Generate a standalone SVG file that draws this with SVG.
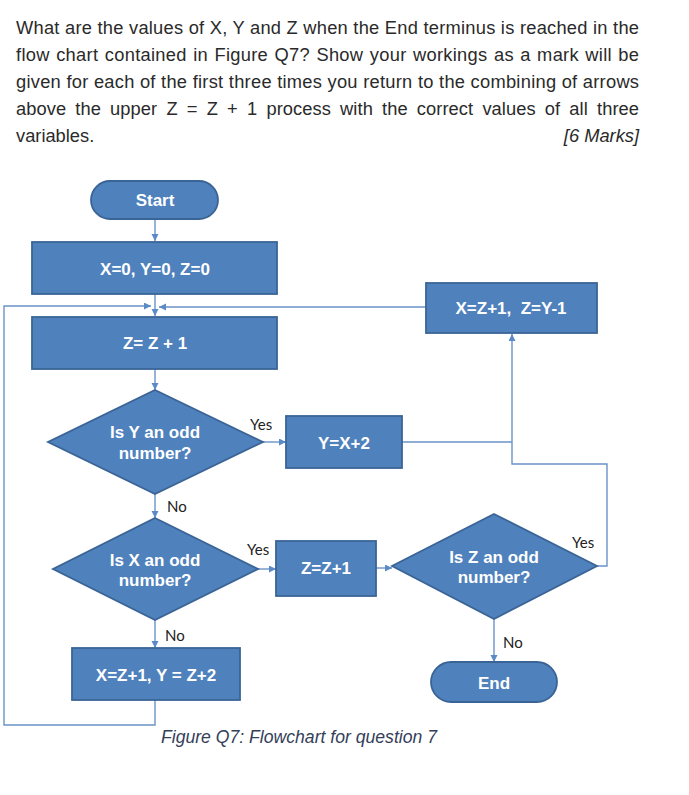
<svg xmlns="http://www.w3.org/2000/svg" width="689" height="795" viewBox="0 0 689 795">
<defs>
<style>
.q{font-family:"Liberation Sans",Arial,sans-serif;font-size:18.3px;fill:#2a2a2a}
.shape{fill:#4f81bd;stroke:#3a6496;stroke-width:1.8}
.nt{font-family:"Liberation Sans",Arial,sans-serif;font-size:17px;font-weight:bold;fill:#ffffff;text-anchor:middle;white-space:pre}
.lbl{font-family:Lato,"Liberation Sans",sans-serif;font-size:15px;fill:#222}
.cn{fill:none;stroke:#6a93c8;stroke-width:1.4}
.cap{font-family:"Liberation Sans",Arial,sans-serif;font-size:17.5px;font-style:italic;fill:#34405a}
</style>
<marker id="ah" markerUnits="userSpaceOnUse" markerWidth="8" markerHeight="8" refX="7" refY="3.5" orient="auto">
<path d="M0,0 L7,3.5 L0,7 z" fill="#5b8ac6"/>
</marker>
</defs>
<rect width="689" height="795" fill="#ffffff"/>
<g id="question">
<text class="q" x="16" y="34" textLength="623" lengthAdjust="spacing">What are the values of X, Y and Z when the End terminus is reached in the</text>
<text class="q" x="16" y="61" textLength="623" lengthAdjust="spacing" word-spacing="1">flow chart contained in Figure Q7? Show your workings as a mark will be</text>
<text class="q" x="16" y="88" textLength="623" lengthAdjust="spacing">given for each of the first three times you return to the combining of arrows</text>
<text class="q" x="16" y="115" textLength="623" lengthAdjust="spacing" word-spacing="4">above the upper Z = Z + 1 process with the correct values of all three</text>
<text class="q" x="16" y="142">variables.</text>
<text class="q" x="639" y="142" text-anchor="end" font-style="italic">[6 Marks]</text>
</g>
<g id="connectors">
<path class="cn" d="M155,219 V241" marker-end="url(#ah)"/>
<path class="cn" d="M155,294 V316" marker-end="url(#ah)"/>
<path class="cn" d="M155,700 V725 H4 V306 H151" marker-end="url(#ah)"/>
<path class="cn" d="M426,307 H159" marker-end="url(#ah)"/>
<path class="cn" d="M155,369 V390" marker-end="url(#ah)"/>
<path class="cn" d="M263,442 H286" marker-end="url(#ah)"/>
<path class="cn" d="M155,494 V518" marker-end="url(#ah)"/>
<path class="cn" d="M258,569 H276" marker-end="url(#ah)"/>
<path class="cn" d="M155,620 V648" marker-end="url(#ah)"/>
<path class="cn" d="M376,568 H392" marker-end="url(#ah)"/>
<path class="cn" d="M597,566 H607 V464 H512 V334" marker-end="url(#ah)"/>
<path class="cn" d="M402,442 H512"/>
<path class="cn" d="M494,619 V662" marker-end="url(#ah)"/>
</g>
<g id="start">
<rect class="shape" x="91" y="181" width="127" height="38" rx="19"/>
<text class="nt" x="155" y="206">Start</text>
</g>
<g id="init">
<rect class="shape" x="32" y="242" width="245" height="52"/>
<text class="nt" x="155" y="275">X=0, Y=0, Z=0</text>
</g>
<g id="incZ">
<rect class="shape" x="32" y="317" width="245" height="52"/>
<text class="nt" x="155" y="349">Z= Z + 1</text>
</g>
<g id="isYodd">
<polygon class="shape" points="155,390 263,442 155,494 48,442"/>
<text class="nt" x="155" y="438">Is Y an odd</text>
<text class="nt" x="155" y="459">number?</text>
</g>
<g id="setY">
<rect class="shape" x="286" y="416" width="116" height="52"/>
<text class="nt" x="344" y="449">Y=X+2</text>
</g>
<g id="setXZ">
<rect class="shape" x="426" y="283" width="171" height="50"/>
<text class="nt" x="511" y="314">X=Z+1,  Z=Y-1</text>
</g>
<g id="isXodd">
<polygon class="shape" points="155,518 258,569 155,620 53,569"/>
<text class="nt" x="155" y="566">Is X an odd</text>
<text class="nt" x="155" y="586">number?</text>
</g>
<g id="incZ2">
<rect class="shape" x="276" y="541" width="100" height="55"/>
<text class="nt" x="326" y="574">Z=Z+1</text>
</g>
<g id="isZodd">
<polygon class="shape" points="494,514 597,566 494,619 392,566"/>
<text class="nt" x="494" y="563">Is Z an odd</text>
<text class="nt" x="494" y="583">number?</text>
</g>
<g id="setXY">
<rect class="shape" x="72" y="648" width="168" height="52"/>
<text class="nt" x="156" y="681">X=Z+1, Y = Z+2</text>
</g>
<g id="end">
<rect class="shape" x="431" y="662" width="126" height="40" rx="20"/>
<text class="nt" x="494" y="689">End</text>
</g>
<g id="labels">
<text class="lbl" x="250" y="430">Yes</text>
<text class="lbl" x="167" y="512">No</text>
<text class="lbl" x="247" y="555">Yes</text>
<text class="lbl" x="165" y="641" font-family="Liberation Sans">No</text>
<text class="lbl" x="572" y="548">Yes</text>
<text class="lbl" x="503" y="648" font-family="Liberation Sans">No</text>
</g>
<text class="cap" x="161" y="743" textLength="276" lengthAdjust="spacingAndGlyphs">Figure Q7: Flowchart for question 7</text>
</svg>
